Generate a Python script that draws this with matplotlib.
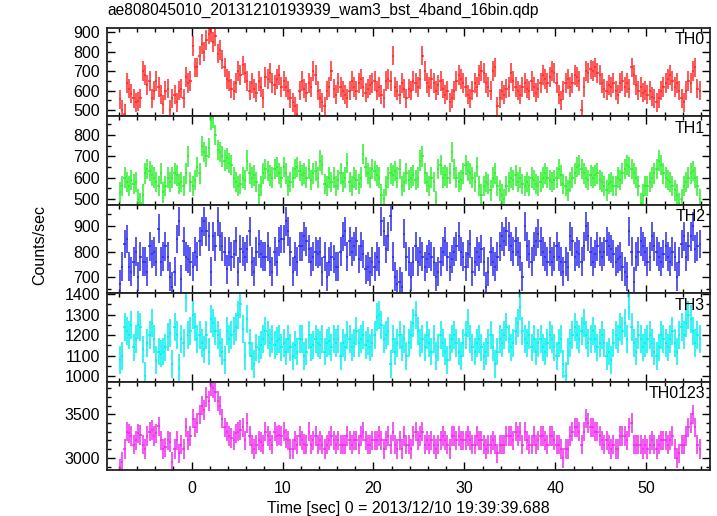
import numpy as np
import matplotlib
matplotlib.use('Agg')
import matplotlib.pyplot as plt
from matplotlib.ticker import MultipleLocator

# ---------------- data (rates in counts/sec, 0.25 s bins starting at -8 s) ----------------
t_start = -8.0
bin_size = 0.25

th0 = [
    555, 500, 480, 640, 610, 585, 560, 540,
    545, 560, 700, 680, 630, 650, 560, 600,
    650, 620, 580, 530, 600, 610, 500, 560,
    580, 540, 600, 610, 560, 670, 640, 650,
    830, 720, 720, 780, 840, 800, 860, 890,
    900, 850, 880, 790, 810, 760, 720, 660,
    650, 610, 600, 640, 700, 680, 730, 690,
    650, 600, 640, 610, 590, 650, 620, 560,
    670, 660, 690, 640, 630, 660, 680, 620,
    650, 620, 600, 560, 540, 520, 480, 600,
    650, 610, 590, 640, 620, 700, 680, 600,
    560, 540, 520, 600, 620, 700, 610, 580,
    640, 620, 600, 580, 560, 600, 650, 620,
    600, 640, 660, 620, 590, 610, 630, 640,
    650, 600, 620, 580, 560, 650, 660, 650,
    780, 620, 600, 580, 640, 610, 560, 610,
    600, 650, 640, 620, 660, 780, 700, 640,
    620, 660, 640, 600, 630, 650, 610, 580,
    600, 540, 560, 600, 650, 680, 660, 640,
    620, 580, 560, 600, 640, 620, 680, 700,
    690, 640, 620, 600, 700, 720, 520, 560,
    600, 580, 610, 620, 690, 650, 620, 600,
    580, 620, 640, 610, 600, 650, 620, 590,
    610, 640, 680, 660, 640, 670, 700, 690,
    640, 580, 550, 600, 640, 660, 620, 640,
    680, 670, 650, 500, 620, 700, 690, 710,
    700, 720, 690, 680, 640, 610, 600, 630,
    620, 640, 600, 580, 640, 650, 620, 640,
    610, 720, 680, 630, 600, 620, 590, 600,
    580, 600, 570, 560, 540, 560, 600, 620,
    640, 660, 680, 650, 620, 640, 600, 560,
    540, 600, 650, 640, 700, 720, 610, 600,
]

th1 = [
    530, 560, 600, 580, 560, 590, 570, 580,
    500, 480, 520, 620, 640, 630, 610, 600,
    580, 560, 620, 530, 560, 600, 580, 600,
    620, 610, 570, 580, 560, 620, 700, 580,
    560, 590, 650, 620, 750, 720, 700, 740,
    870, 880, 800, 730, 720, 700, 680, 690,
    670, 660, 600, 580, 560, 570, 600, 590,
    680, 620, 600, 610, 580, 520, 560, 620,
    640, 630, 610, 600, 640, 650, 620, 600,
    650, 620, 560, 580, 600, 640, 650, 630,
    610, 620, 600, 640, 590, 620, 630, 600,
    680, 660, 570, 560, 600, 580, 600, 560,
    590, 620, 580, 600, 670, 580, 560, 600,
    590, 570, 600, 710, 650, 620, 600, 640,
    630, 610, 600, 520, 500, 560, 600, 620,
    610, 630, 600, 640, 560, 580, 620, 590,
    600, 610, 590, 600, 680, 700, 620, 580,
    560, 600, 580, 490, 640, 660, 600, 610,
    600, 620, 720, 640, 600, 580, 590, 620,
    660, 630, 620, 600, 580, 650, 560, 520,
    560, 580, 570, 540, 600, 620, 560, 540,
    520, 500, 560, 580, 600, 590, 610, 580,
    600, 570, 560, 580, 560, 600, 590, 570,
    560, 580, 600, 620, 600, 590, 580, 590,
    600, 640, 610, 570, 560, 540, 580, 600,
    620, 650, 660, 640, 620, 600, 590, 610,
    600, 610, 620, 590, 580, 560, 540, 570,
    580, 560, 560, 600, 590, 620, 640, 660,
    650, 640, 620, 600, 560, 480, 520, 560,
    560, 580, 600, 620, 640, 680, 660, 620,
    600, 590, 580, 560, 540, 520, 480, 500,
    560, 580, 600, 620, 630, 600, 560, 500,
]

th2 = [
    670, 740, 830, 850, 740, 720, 760, 800,
    700, 780, 760, 760, 720, 820, 790, 800,
    760, 890, 760, 780, 820, 780, 700, 660,
    720, 850, 920, 690, 840, 780, 770, 760,
    740, 800, 780, 840, 880, 920, 880, 860,
    720, 860, 820, 920, 860, 820, 800, 730,
    800, 780, 790, 840, 720, 810, 800, 780,
    810, 880, 760, 720, 800, 830, 790, 780,
    780, 820, 760, 720, 800, 760, 840, 850,
    850, 920, 880, 800, 720, 780, 760, 820,
    820, 860, 840, 810, 760, 780, 800, 790,
    800, 720, 780, 700, 760, 780, 770, 740,
    740, 800, 860, 880, 780, 840, 800, 820,
    840, 770, 820, 790, 730, 740, 720, 760,
    740, 780, 760, 920, 880, 810, 860, 940,
    780, 700, 670, 680, 660, 870, 780, 760,
    700, 760, 820, 760, 800, 780, 740, 770,
    790, 780, 760, 700, 720, 760, 800, 840,
    780, 740, 770, 800, 820, 860, 800, 780,
    740, 790, 830, 720, 760, 800, 780, 810,
    760, 660, 720, 800, 760, 740, 780, 820,
    860, 840, 880, 860, 820, 800, 840, 800,
    780, 700, 900, 820, 790, 760, 820, 840,
    870, 840, 800, 780, 760, 800, 760, 780,
    820, 780, 760, 720, 760, 740, 860, 840,
    780, 800, 790, 760, 820, 900, 860, 800,
    760, 790, 820, 800, 780, 800, 840, 820,
    810, 790, 760, 770, 780, 740, 720, 700,
    880, 800, 680, 780, 800, 840, 820, 800,
    760, 780, 860, 820, 800, 780, 760, 790,
    820, 780, 760, 800, 780, 700, 760, 830,
    860, 780, 820, 860, 900, 810, 820, 830,
]

th3 = [
    1080, 1100, 1240, 1220, 1200, 1250, 1140, 1180,
    1250, 1240, 1130, 1000, 1160, 1200, 1260, 1180,
    1080, 1120, 1110, 1120, 1140, 1190, 1210, 1060,
    1240, 1200, 1040, 1180, 1160, 1380, 1200, 1220,
    1300, 1240, 1180, 1200, 1160, 1130, 1200, 1120,
    1280, 1260, 1220, 1200, 1160, 1120, 1080, 1220,
    1180, 1200, 1220, 1240, 1300, 1350, 1230, 1100,
    1280, 1160, 1100, 1060, 1140, 1130, 1150, 1180,
    1220, 1200, 1160, 1180, 1150, 1170, 1180, 1140,
    1160, 1120, 1180, 1140, 1100, 1150, 1120, 1180,
    1180, 1100, 1120, 1200, 1140, 1150, 1180, 1160,
    1150, 1180, 1120, 1160, 1170, 1140, 1180, 1160,
    1180, 1100, 1160, 1140, 1200, 1180, 1140, 1160,
    1220, 1160, 1180, 1200, 1150, 1170, 1140, 1160,
    1200, 1290, 1300, 1250, 1180, 1200, 1220, 1060,
    1180, 1120, 1160, 1200, 1140, 1180, 1100, 1160,
    1200, 1260, 1300, 1220, 1160, 1180, 1140, 1200,
    1160, 1120, 1180, 1100, 1140, 1200, 1160, 1120,
    1080, 1140, 1180, 1200, 1160, 1120, 1100, 1160,
    1200, 1260, 1180, 1140, 1120, 1160, 1180, 1140,
    1100, 1120, 1160, 1200, 1140, 1060, 1120, 1180,
    1160, 1200, 1240, 1180, 1140, 1160, 1220, 1260,
    1340, 1220, 1180, 1160, 1200, 1140, 1180, 1120,
    1160, 1180, 1140, 1120, 1160, 1200, 1180, 1140,
    1100, 1160, 1180, 1060, 1000, 1120, 1160, 1200,
    1240, 1200, 1180, 1220, 1260, 1200, 1160, 1180,
    1220, 1180, 1140, 1160, 1200, 1160, 1100, 1120,
    1080, 1160, 1200, 1180, 1240, 1220, 1260, 1180,
    1340, 1240, 1160, 1120, 1200, 1180, 1140, 1160,
    1180, 1200, 1160, 1120, 1100, 1140, 1200, 1180,
    1160, 1140, 1180, 1220, 1160, 1120, 1200, 1240,
    1200, 1260, 1300, 1280, 1220, 1160, 1200, 1180,
]

th0123 = [
    2880, 2950, 3100, 3300, 3280, 3250, 3150, 3200,
    3280, 3260, 3150, 3100, 3250, 3300, 3320, 3250,
    3280, 3360, 3200, 3100, 3120, 3200, 3180, 2950,
    3100, 3200, 3050, 3150, 3100, 3350, 3200, 3250,
    3450, 3350, 3400, 3500, 3600, 3550, 3700, 3650,
    3820, 3800, 3750, 3650, 3600, 3450, 3350, 3300,
    3250, 3230, 3200, 3280, 3300, 3320, 3350, 3200,
    3400, 3250, 3150, 3100, 3150, 3200, 3180, 3150,
    3300, 3250, 3200, 3150, 3300, 3250, 3260, 3250,
    3300, 3220, 3200, 3100, 3100, 3200, 3150, 3250,
    3200, 3160, 3150, 3300, 3150, 3200, 3250, 3150,
    3200, 3150, 3100, 3150, 3200, 3250, 3200, 3150,
    3200, 3150, 3150, 3150, 3250, 3200, 3150, 3200,
    3200, 3150, 3250, 3300, 3200, 3150, 3150, 3200,
    3200, 3200, 3250, 3200, 3100, 3200, 3250, 3150,
    3300, 3150, 3100, 3200, 3100, 3250, 3150, 3150,
    3100, 3250, 3300, 3200, 3250, 3300, 3150, 3200,
    3150, 3200, 3150, 3100, 3150, 3200, 3250, 3200,
    3150, 3100, 3250, 3250, 3200, 3250, 3200, 3200,
    3200, 3250, 3200, 3150, 3150, 3250, 3200, 3200,
    3150, 3100, 3150, 3150, 3200, 3150, 3050, 3150,
    3150, 3150, 3250, 3250, 3250, 3200, 3300, 3250,
    3300, 3150, 3300, 3200, 3150, 3150, 3250, 3150,
    3200, 3250, 3250, 3200, 3150, 3250, 3250, 3200,
    3150, 3150, 3100, 3000, 3100, 3100, 3250, 3300,
    3350, 3350, 3300, 3150, 3300, 3450, 3400, 3350,
    3350, 3300, 3300, 3250, 3200, 3150, 3200, 3150,
    3100, 3150, 3100, 3100, 3250, 3250, 3250, 3200,
    3350, 3400, 3150, 3150, 3150, 3150, 3100, 3150,
    3100, 3150, 3200, 3150, 3100, 3150, 3200, 3200,
    3200, 3150, 3200, 3250, 3100, 3000, 3050, 3150,
    3150, 3250, 3350, 3400, 3500, 3350, 3150, 3100,
]

panel_names = ['TH0', 'TH1', 'TH2', 'TH3', 'TH0123']
errors = [50, 48, 57, 68, 112]          # typical 1-sigma half-length of bars
y_limits = [(468, 922), (472, 888), (635, 985), (973, 1405), (2860, 3875)]
y_major = [100, 100, 100, 100, 500]
y_minor = [50, 50, 50, 50, 100]
colors = ['#ff2a2a', '#2af02a', '#2a2af0', '#00f0f0', '#f02af0']

title = 'ae808045010_20131210193939_wam3_bst_4band_16bin.qdp'
xlabel = 'Time [sec] 0 = 2013/12/10 19:39:39.688'
ylabel = 'Counts/sec'

# ---------------- plotting ----------------
plt.rcParams['font.family'] = ['Liberation Sans', 'DejaVu Sans']
fig = plt.figure(figsize=(7.17, 5.16), dpi=100)

W, H = 717.0, 516.0
left, right = 107 / W, 710 / W
bottom, top = 1 - 470 / H, 1 - 28 / H
ph = (top - bottom) / 5

series = [th0, th1, th2, th3, th0123]
axes = []
for i, vals in enumerate(series):
    ax = fig.add_axes([left, top - (i + 1) * ph, right - left, ph])
    axes.append(ax)
    vals = np.asarray(vals, dtype=float)
    t = t_start + bin_size * (np.arange(len(vals)) + 0.5)
    ax.errorbar(t, vals, xerr=bin_size / 2, yerr=errors[i], fmt='none',
                ecolor=colors[i], elinewidth=1.1, capsize=0)
    ax.set_xlim(-9.3, 57.0)
    ax.set_ylim(*y_limits[i])
    ax.xaxis.set_major_locator(MultipleLocator(10))
    ax.xaxis.set_minor_locator(MultipleLocator(2))
    ax.yaxis.set_major_locator(MultipleLocator(y_major[i]))
    ax.yaxis.set_minor_locator(MultipleLocator(y_minor[i]))
    ax.tick_params(which='both', direction='in', top=True, right=True,
                   width=1.0, labelsize=11.5, colors='black')
    ax.tick_params(which='major', length=6)
    ax.tick_params(axis='y', which='major', pad=5)
    ax.tick_params(axis='x', which='major', pad=8)
    ax.tick_params(which='minor', length=3)
    for sp in ax.spines.values():
        sp.set_linewidth(1.3)
        sp.set_color('#222222')
    if i < 4:
        ax.tick_params(labelbottom=False)
    ax.text(0.992, 0.95, panel_names[i], transform=ax.transAxes,
            ha='right', va='top', fontsize=11.5, color='black')

fig.text(107 / W, 1 - 10 / H, title, ha='left', va='center', fontsize=11.2)
fig.text((left + right) / 2, 1 - 508 / H, xlabel, ha='center', va='center', fontsize=11.5)
fig.text(40 / W, 1 - 245 / H, ylabel, rotation=90, ha='center', va='center', fontsize=11.5)

fig.savefig('out.png', dpi=100)
